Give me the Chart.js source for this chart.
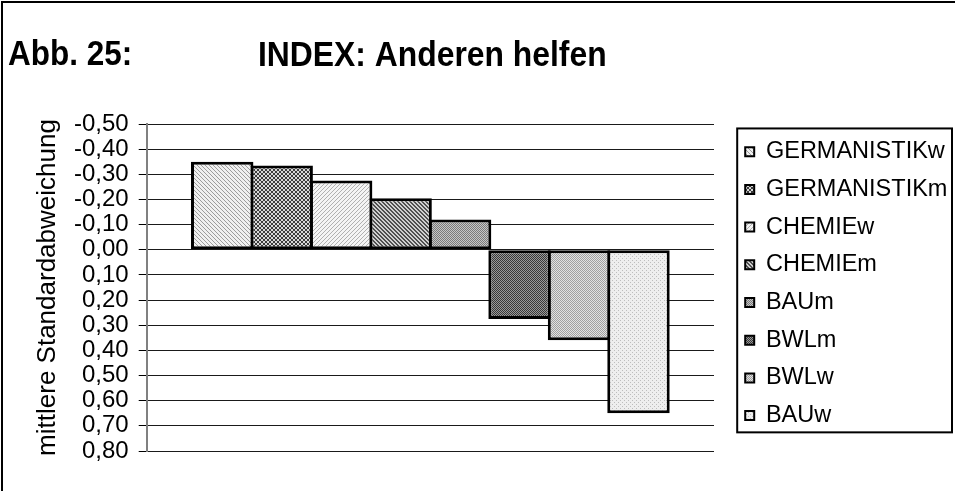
<!DOCTYPE html>
<html>
<head>
<meta charset="utf-8">
<script src="https://cdn.jsdelivr.net/npm/chart.js@4.4.1/dist/chart.umd.min.js"></script>
<style>
  html, body { margin: 0; padding: 0; background: #fff; }
  #wrap { width: 955px; height: 491px; position: relative; }
</style>
</head>
<body>
<div id="wrap"><canvas id="c" width="955" height="491"></canvas></div>
<script>
// Data: one category, one bar per study group
const categories = [''];
const seriesNames = ['GERMANISTIKw', 'GERMANISTIKm', 'CHEMIEw', 'CHEMIEm', 'BAUm', 'BWLm', 'BWLw', 'BAUw'];
const seriesValues = [-0.35, -0.335, -0.275, -0.205, -0.12, 0.275, 0.36, 0.65];
const yMin = -0.5;
const yMax = 0.8;
const yStep = 0.1;

const FONT = '"Liberation Sans", Arial, Helvetica, sans-serif';
const PLOT_RIGHT = 714;
const LEGEND_W = 224;

// Small bitmap fill patterns (Excel-like hatch fills)
function pattern(size, bg, fg, cells) {
  const cv = document.createElement('canvas');
  cv.width = size; cv.height = size;
  const g = cv.getContext('2d');
  g.fillStyle = bg; g.fillRect(0, 0, size, size);
  g.fillStyle = fg;
  cells.forEach(([x, y]) => g.fillRect(x, y, 1, 1));
  return g.createPattern(cv, 'repeat');
}
const diagDown = [[0,0],[1,1],[2,2],[3,3]];
const diagUp = [[3,0],[2,1],[1,2],[0,3]];
const diagThick = [[0,0],[1,0],[1,1],[2,1],[2,2],[3,2],[3,3],[0,3]];
const checker = [[0,0],[1,1]];
const sparseDots = [[0,0],[2,2]];

const fills = [
  pattern(4, '#f0f0f0', '#9c9c9c', diagDown),
  pattern(4, '#d8d8d8', '#3c3c3c', diagDown.concat(diagUp)),
  pattern(4, '#f4f4f4', '#b0b0b0', diagUp),
  pattern(4, '#d0d0d0', '#505050', diagThick),
  pattern(2, '#c6c6c6', '#7a7a7a', checker),
  pattern(2, '#9a9a9a', '#383838', checker),
  pattern(2, '#e2e2e2', '#a0a0a0', checker),
  pattern(4, '#eeeeee', '#bdbdbd', sparseDots)
];

function fmt(v) {
  const r = Math.round(v * 100) / 100;
  return (r === 0 ? 0 : r).toFixed(2).replace('.', ',');
}

function drawNarrow(c, text, x, y, sx) {
  c.save();
  c.translate(x, y);
  c.scale(sx, 1);
  c.fillText(text, 0, 0);
  c.restore();
}

const decor = {
  id: 'decor',
  afterInit(chart) {
    const lg = chart.legend;
    if (lg) {
      const fit = lg.fit.bind(lg);
      lg.fit = function () { fit(); this.width = LEGEND_W; };
    }
  },
  beforeDraw(chart) {
    const c = chart.ctx;
    c.save();
    c.fillStyle = '#fff';
    c.fillRect(0, 0, chart.width, chart.height);
    c.strokeStyle = '#000';
    c.lineWidth = 2;
    c.strokeRect(2, 2, chart.width + 20, chart.height + 20);
    c.fillStyle = '#000';
    c.font = 'bold 35px ' + FONT;
    c.textBaseline = 'alphabetic';
    c.textAlign = 'left';
    drawNarrow(c, 'Abb. 25:', 8, 65, 0.9);
    drawNarrow(c, 'INDEX: Anderen helfen', 258, 66, 0.91);
    c.restore();
  },
  afterDraw(chart) {
    const lg = chart.legend;
    if (!lg || !lg.legendHitBoxes || !lg.legendHitBoxes.length) return;
    const hb = lg.legendHitBoxes;
    const first = hb[0], last = hb[hb.length - 1];
    const c = chart.ctx;
    c.save();
    c.strokeStyle = '#000';
    c.lineWidth = 2;
    const left = first.left - 8;
    const top = first.top - 11.5;
    const bottom = last.top + last.height + 5;
    const right = lg.right - 3;
    c.strokeRect(left, top, right - left, bottom - top);
    c.restore();
  }
};

new Chart(document.getElementById('c'), {
  type: 'bar',
  data: {
    labels: categories,
    datasets: seriesNames.map((name, i) => ({
      label: name,
      data: [seriesValues[i]],
      backgroundColor: fills[i],
      borderColor: '#000',
      borderWidth: 3,
      borderSkipped: false,
      categoryPercentage: 0.8386,
      barPercentage: 1.05
    }))
  },
  options: {
    responsive: false,
    animation: false,
    devicePixelRatio: 1,
    layout: { padding: { top: 124, bottom: 40, left: 28, right: 0 } },
    plugins: {
      title: { display: false },
      tooltip: { enabled: false },
      legend: {
        position: 'right',
        align: 'start',
        title: { display: true, text: '', padding: 0, font: { size: 1.75, lineHeight: 1 } },
        labels: {
          font: { family: FONT, size: 23.5 },
          color: '#000',
          boxWidth: 9,
          boxHeight: 9,
          padding: 14.2,
          generateLabels: (chart) =>
            Chart.defaults.plugins.legend.labels.generateLabels(chart).map(l => Object.assign(l, { lineWidth: 2 }))
        }
      }
    },
    scales: {
      x: { display: false },
      y: {
        type: 'linear',
        reverse: true,
        min: yMin,
        max: yMax,
        ticks: {
          stepSize: yStep,
          autoSkip: false,
          font: { family: FONT, size: 24 },
          color: '#000',
          padding: 10,
          callback: (v) => fmt(v)
        },
        grid: { color: '#1a1a1a', lineWidth: 1, tickLength: 8, tickColor: '#000' },
        border: { color: '#808080', width: 2 },
        title: {
          display: true,
          text: 'mittlere Standardabweichung',
          font: { family: FONT, size: 26 },
          color: '#000',
          padding: { top: 4, bottom: 0.8 }
        }
      },
      y2: {
        type: 'linear',
        position: 'right',
        display: true,
        grid: { display: false, drawOnChartArea: false, drawTicks: false },
        border: { display: false },
        ticks: { display: false },
        afterFit: (s) => { s.width = Math.max(0, s.chart.width - LEGEND_W - PLOT_RIGHT); }
      }
    }
  },
  plugins: [decor]
});
</script>
</body>
</html>
